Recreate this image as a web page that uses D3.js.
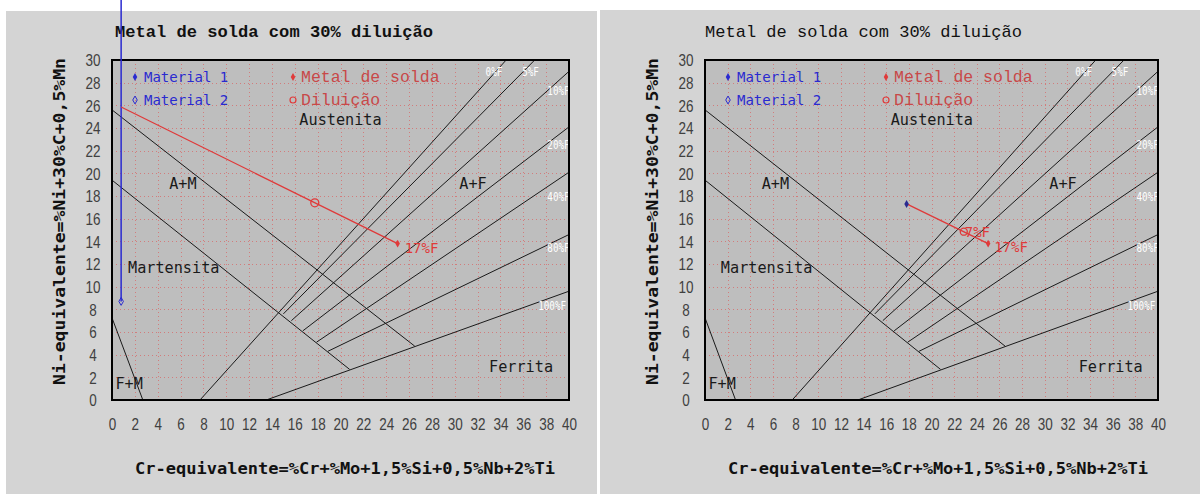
<!DOCTYPE html>
<html>
<head>
<meta charset="utf-8">
<script src="https://cdn.jsdelivr.net/npm/d3@7"></script>
<style>
  html, body { margin: 0; padding: 0; background: #ffffff; }
  svg { display: block; }
</style>
</head>
<body>
<svg id="chart" width="1200" height="494"></svg>
<script>
// Schaeffler diagram: weld metal with 30% dilution, two cases side by side.

const xTicks = d3.range(0, 41, 2);
const yTicks = d3.range(0, 31, 2);

const titleText = "Metal de solda com 30% diluição";
const xTitle = "Cr-equivalente=%Cr+%Mo+1,5%Si+0,5%Nb+2%Ti";
const yTitle = "Ni-equivalente=%Ni+30%C+0,5%Mn";

// Phase-boundary and iso-ferrite lines (Cr_eq, Ni_eq)
const lineNames = ["F+M", "A/A+M", "A+M/M", "0%F", "5%F", "10%F", "20%F", "40%F", "80%F", "100%F"];
const lineStarts = [[0, 7.25], [0, 25.6], [0, 19.4], [7.7, 0], [15.0, 7.6], [15.7, 7.0], [16.7, 6.1], [17.9, 5.1], [18.9, 4.3], [13.5, 0]];
const lineEnds = [[2.7, 0], [26.5, 4.75], [20.8, 2.7], [34.5, 30], [37.0, 30], [40, 29.0], [40, 24.1], [40, 20.1], [40, 14.6], [40, 9.6]];

// Ferrite percentage labels at the ends of the iso-ferrite lines
const ferriteLabels = ["0%F", "5%F", "10%F", "20%F", "40%F", "80%F", "100%F"];
const ferriteLabelPos = [[32.7, 28.6], [35.9, 28.6], [38.1, 26.9], [38.1, 22.15], [38.1, 17.55], [38.1, 13.05], [37.3, 7.95]];

// Region names
const regionNames = ["Austenita", "A+M", "Martensita", "F+M", "A+F", "Ferrita"];
const regionPos = [[16.4, 24.3], [5.0, 18.6], [1.4, 11.2], [0.3, 1.0], [30.4, 18.6], [33.0, 2.5]];

// Legend entries
const legendNames = ["Material 1", "Material 2", "Metal de solda", "Diluição"];

// Case 1: two base materials and filler
const case1Material1 = [0.8, 43.0];
const case1Material2 = [0.8, 8.7];
const case1BaseMix = [0.8, 25.85];
const case1Weld = [25.0, 13.8];
const case1Dilution = [17.75, 17.4];
const case1WeldFerrite = "17%F";

// Case 2: diluted weld from case 1 as base, same filler
const case2Material = [17.8, 17.3];
const case2Weld = [25.0, 13.8];
const case2Dilution = [22.85, 14.85];
const case2WeldFerrite = "17%F";
const case2DilutionFerrite = "7%F";

const svg = d3.select("#chart");

function drawPanel(opt) {
  const g = svg.append("g");
  // panel background
  g.append("rect").attr("x", opt.bg[0]).attr("y", opt.bg[1])
    .attr("width", opt.bg[2]).attr("height", opt.bg[3]).attr("fill", "#d4d4d4");

  const x = d3.scaleLinear().domain([0, 40]).range([opt.left, opt.right]);
  const y = d3.scaleLinear().domain([0, 30]).range([opt.bottom, opt.top]);

  const clipId = "clip" + opt.id;
  svg.append("defs").append("clipPath").attr("id", clipId)
    .append("rect").attr("x", opt.left).attr("y", opt.top)
    .attr("width", opt.right - opt.left).attr("height", opt.bottom - opt.top);

  g.append("rect").attr("x", opt.left).attr("y", opt.top)
    .attr("width", opt.right - opt.left).attr("height", opt.bottom - opt.top)
    .attr("fill", "#bebebe");

  // dotted grid
  const grid = g.append("g").attr("stroke", "#d27c7c").attr("stroke-width", 1)
    .attr("stroke-dasharray", "1,3");
  grid.selectAll("line.v").data(xTicks.slice(1, -1)).join("line")
    .attr("x1", d => Math.round(x(d)) + 0.5).attr("x2", d => Math.round(x(d)) + 0.5)
    .attr("y1", opt.top).attr("y2", opt.bottom);
  grid.selectAll("line.h").data(yTicks.slice(1, -1)).join("line")
    .attr("y1", d => Math.round(y(d)) + 0.5).attr("y2", d => Math.round(y(d)) + 0.5)
    .attr("x1", opt.left).attr("x2", opt.right);

  // diagram lines
  const lg = g.append("g").attr("clip-path", `url(#${clipId})`);
  lg.selectAll("line").data(lineNames).join("line")
    .attr("x1", (d, i) => x(lineStarts[i][0])).attr("y1", (d, i) => y(lineStarts[i][1]))
    .attr("x2", (d, i) => x(lineEnds[i][0])).attr("y2", (d, i) => y(lineEnds[i][1]))
    .attr("stroke", "#1a1a1a").attr("stroke-width", 1);

  // ferrite labels
  g.append("g").selectAll("text").data(ferriteLabels).join("text")
    .attr("x", (d, i) => x(ferriteLabelPos[i][0])).attr("y", (d, i) => y(ferriteLabelPos[i][1]))
    .attr("font-family", "DejaVu Sans Mono").attr("font-size", 11.5)
    .attr("textLength", d => d.length * 5.6).attr("lengthAdjust", "spacingAndGlyphs")
    .attr("fill", "#ffffff").text(d => d);

  // region labels
  g.append("g").selectAll("text").data(regionNames).join("text")
    .attr("x", (d, i) => x(regionPos[i][0])).attr("y", (d, i) => y(regionPos[i][1]))
    .attr("font-family", "DejaVu Sans Mono").attr("font-size", 15.2)
    .attr("fill", "#1a1a1a").text(d => d);

  // frame
  g.append("rect").attr("x", opt.left).attr("y", opt.top)
    .attr("width", opt.right - opt.left).attr("height", opt.bottom - opt.top)
    .attr("fill", "none").attr("stroke", "#000").attr("stroke-width", 2);

  // axes
  const xAxis = g.append("g").attr("transform", `translate(0,424)`)
    .call(d3.axisBottom(x).tickValues(xTicks).tickSize(0).tickPadding(0));
  xAxis.select(".domain").remove();
  xAxis.selectAll("text").attr("font-family", "Liberation Sans")
    .attr("font-size", 16.5).attr("fill", "#404040").attr("dy", "0.36em")
    .attr("textLength", d => String(d).length * 7.5).attr("lengthAdjust", "spacingAndGlyphs");

  const yAxis = g.append("g").attr("transform", `translate(${opt.left - 19},0)`)
    .call(d3.axisLeft(y).tickValues(yTicks).tickSize(0).tickPadding(0));
  yAxis.select(".domain").remove();
  yAxis.selectAll("text").attr("font-family", "Liberation Sans").attr("text-anchor", "middle")
    .attr("font-size", 16.5).attr("fill", "#404040").attr("dy", "0.36em")
    .attr("textLength", d => String(d).length * 7.5).attr("lengthAdjust", "spacingAndGlyphs");

  // titles
  g.append("text").attr("x", opt.titleX).attr("y", 37)
    .attr("font-family", "Liberation Mono").attr("font-size", 17)
    .attr("font-weight", opt.titleBold ? "bold" : "normal")
    .attr("textLength", opt.titleLen).attr("lengthAdjust", "spacingAndGlyphs")
    .attr("fill", "#111").text(titleText);

  g.append("text").attr("x", opt.left + 23).attr("y", 474)
    .attr("font-family", "DejaVu Sans Mono").attr("font-size", 15).attr("font-weight", "bold")
    .attr("textLength", 420).attr("lengthAdjust", "spacingAndGlyphs")
    .attr("fill", "#111").text(xTitle);

  g.append("text").attr("transform", `translate(${opt.left - 47},385) rotate(-90)`)
    .attr("font-family", "DejaVu Sans Mono").attr("font-size", 15).attr("font-weight", "bold")
    .attr("textLength", 327).attr("lengthAdjust", "spacingAndGlyphs")
    .attr("fill", "#111").text(yTitle);

  // legend
  const lgX1 = opt.left + 20, lgX2 = opt.left + 178;
  const blue = "#2a2ad0", red = "#e03a3a";
  const diamond = d3.symbol().type(d3.symbolDiamond).size(18);
  g.append("path").attr("d", diamond).attr("transform", `translate(${lgX1 + 3},77)`).attr("fill", blue);
  g.append("path").attr("d", diamond).attr("transform", `translate(${lgX1 + 3},100)`)
    .attr("fill", "none").attr("stroke", blue).attr("stroke-width", 1);
  g.append("path").attr("d", diamond).attr("transform", `translate(${lgX2 + 3},77)`).attr("fill", red);
  g.append("circle").attr("cx", lgX2 + 3).attr("cy", 100).attr("r", 3)
    .attr("fill", "none").attr("stroke", red).attr("stroke-width", 1.2);
  g.append("text").attr("x", lgX1 + 12).attr("y", 82).attr("font-family", "DejaVu Sans Mono")
    .attr("font-size", 14).attr("fill", blue).text(legendNames[0]);
  g.append("text").attr("x", lgX1 + 12).attr("y", 105).attr("font-family", "DejaVu Sans Mono")
    .attr("font-size", 14).attr("fill", blue).text(legendNames[1]);
  g.append("text").attr("x", lgX2 + 11).attr("y", 82).attr("font-family", "Liberation Mono")
    .attr("font-size", 16.5).attr("fill", "#c84848").text(legendNames[2]);
  g.append("text").attr("x", lgX2 + 11).attr("y", 105).attr("font-family", "Liberation Mono")
    .attr("font-size", 16.5).attr("fill", "#c84848").text(legendNames[3]);

  return { g, x, y, blue, red, diamond };
}

// ---- left panel ----
const L = drawPanel({ id: 1, bg: [6, 11, 591, 483], left: 112, right: 569, top: 60, bottom: 400,
  titleX: 115, titleLen: 318, titleBold: true });
{
  const { g, x, y, blue, red, diamond } = L;
  g.append("line").attr("x1", x(case1Material1[0])).attr("y1", y(case1Material1[1]))
    .attr("x2", x(case1Material2[0])).attr("y2", y(case1Material2[1]))
    .attr("stroke", blue).attr("stroke-width", 1.5);
  g.append("path").attr("d", diamond)
    .attr("transform", `translate(${x(case1Material2[0])},${y(case1Material2[1])})`)
    .attr("fill", "none").attr("stroke", blue);
  g.append("line").attr("x1", x(case1BaseMix[0])).attr("y1", y(case1BaseMix[1]))
    .attr("x2", x(case1Weld[0])).attr("y2", y(case1Weld[1]))
    .attr("stroke", red).attr("stroke-width", 1.3);
  g.append("circle").attr("cx", x(case1Dilution[0])).attr("cy", y(case1Dilution[1])).attr("r", 4)
    .attr("fill", "none").attr("stroke", red).attr("stroke-width", 1.3);
  g.append("path").attr("d", diamond)
    .attr("transform", `translate(${x(case1Weld[0])},${y(case1Weld[1])})`).attr("fill", red);
  g.append("text").attr("x", x(case1Weld[0]) + 7).attr("y", y(case1Weld[1]) + 9)
    .attr("font-family", "DejaVu Sans Mono").attr("font-size", 14).attr("fill", red)
    .text(case1WeldFerrite);
}

// ---- right panel ----
const R = drawPanel({ id: 2, bg: [600, 10, 600, 484], left: 705, right: 1158, top: 60, bottom: 400,
  titleX: 705, titleLen: 317, titleBold: false });
{
  const { g, x, y, blue, red, diamond } = R;
  g.append("line").attr("x1", x(case2Material[0])).attr("y1", y(case2Material[1]))
    .attr("x2", x(case2Weld[0])).attr("y2", y(case2Weld[1]))
    .attr("stroke", red).attr("stroke-width", 1.3);
  g.append("path").attr("d", diamond)
    .attr("transform", `translate(${x(case2Material[0])},${y(case2Material[1])})`).attr("fill", "#2a2a90");
  g.append("circle").attr("cx", x(case2Dilution[0])).attr("cy", y(case2Dilution[1])).attr("r", 3.5)
    .attr("fill", "none").attr("stroke", red).attr("stroke-width", 1.3);
  g.append("path").attr("d", diamond)
    .attr("transform", `translate(${x(case2Weld[0])},${y(case2Weld[1])})`).attr("fill", red);
  g.append("text").attr("x", x(case2Dilution[0]) + 1).attr("y", y(case2Dilution[1]) + 5)
    .attr("font-family", "DejaVu Sans Mono").attr("font-size", 14).attr("fill", red)
    .text(case2DilutionFerrite);
  g.append("text").attr("x", x(case2Weld[0]) + 6).attr("y", y(case2Weld[1]) + 8)
    .attr("font-family", "DejaVu Sans Mono").attr("font-size", 14).attr("fill", red)
    .text(case2WeldFerrite);
}
</script>
</body>
</html>
